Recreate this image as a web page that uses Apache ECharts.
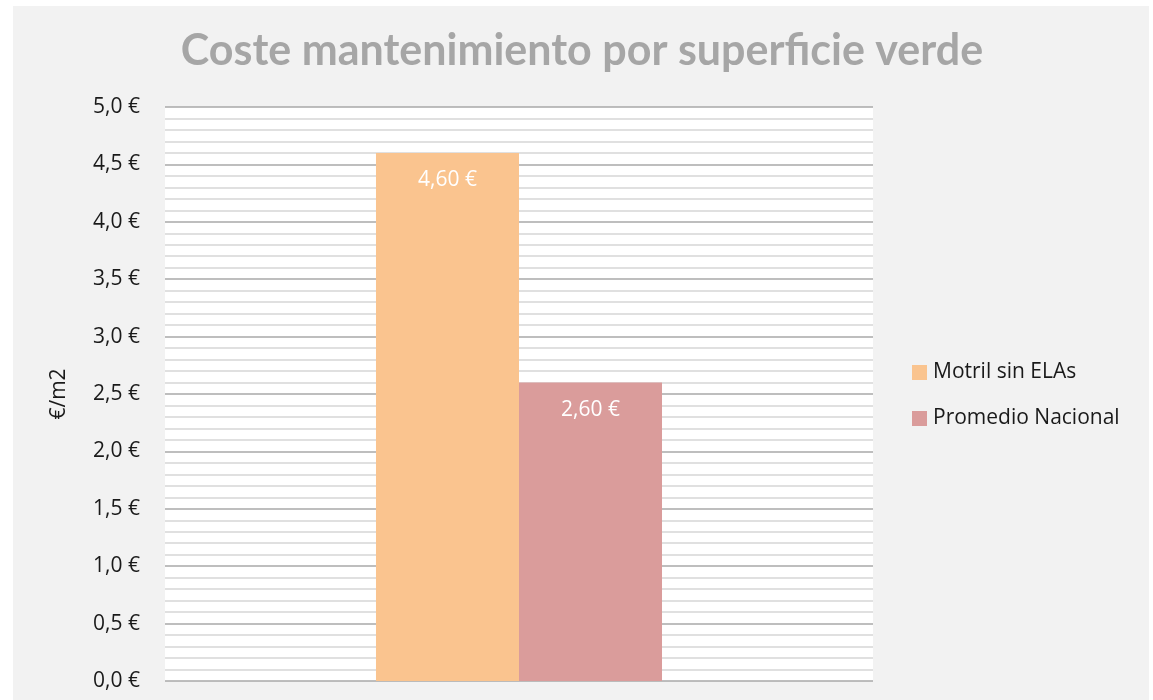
<!DOCTYPE html>
<html>
<head>
<meta charset="utf-8">
<script src="https://cdn.jsdelivr.net/npm/echarts@6/dist/echarts.min.js"></script>
<style>
  html, body { margin: 0; padding: 0; background: #fff; }
  #main { width: 1153px; height: 700px; }
</style>
</head>
<body>
<div id="main"></div>
<script>
  // datos
  const categories = [''];
  const seriesNames = ['Motril sin ELAs', 'Promedio Nacional'];
  const motril = [4.60];
  const promedio = [2.60];
  const seriesColors = ['#fac48f', '#da9c9b'];

  const euro = (v, d) => v.toFixed(d).replace('.', ',') + ' €';
  const font = '"Open Sans", "DejaVu Sans", sans-serif';

  let chart = echarts.init(document.getElementById('main'));
  chart.setOption({
    backgroundColor: '#fff',
    graphic: [{
      type: 'rect', z: -10, silent: true,
      shape: { x: 13, y: 6, width: 1136, height: 694 },
      style: { fill: '#f2f2f2' }
    }],
    title: {
      text: 'Coste mantenimiento por superficie verde',
      left: 577, top: 25, textAlign: 'center',
      textStyle: { color: '#a6a6a6', fontFamily: 'Lato, sans-serif', fontWeight: 'bold', fontSize: 43 }
    },
    legend: {
      orient: 'vertical', left: 912, top: 362, padding: 0,
      icon: 'rect', itemWidth: 15, itemHeight: 15, itemGap: 25,
      textStyle: { color: '#1a1a1a', fontFamily: font, fontSize: 21, padding: [0, 0, 0, 1] },
      data: seriesNames
    },
    grid: {
      left: 165, top: 107, width: 708, height: 574,
      show: true, backgroundColor: '#fff', borderWidth: 0
    },
    xAxis: {
      type: 'category', data: categories,
      axisLine: { show: false }, axisTick: { show: false }, axisLabel: { show: false }
    },
    yAxis: {
      type: 'value', min: 0, max: 5, interval: 0.5,
      name: '€/m2', nameLocation: 'middle', nameGap: 95, nameRotate: 90,
      nameTextStyle: { color: '#1a1a1a', fontFamily: font, fontSize: 21 },
      axisLine: { show: false }, axisTick: { show: false },
      axisLabel: {
        margin: 25, color: '#1a1a1a', fontFamily: font, fontSize: 21,
        formatter: v => euro(v, 1)
      },
      splitLine: { lineStyle: { color: '#a8a8a8', width: 1.5 } },
      minorTick: { show: false, splitNumber: 5 },
      minorSplitLine: { show: true, lineStyle: { color: '#d6d6d6', width: 1.5 } }
    },
    series: [motril, promedio].map((vals, i) => ({
      name: seriesNames[i], type: 'bar', data: vals,
      barGap: '0%', barCategoryGap: '59.6%',
      itemStyle: { color: seriesColors[i] },
      label: {
        show: true, position: 'insideTop', distance: 17,
        color: '#fff', fontFamily: font, fontSize: 21,
        formatter: p => euro(p.value, 2)
      }
    }))
  });
</script>
</body>
</html>
